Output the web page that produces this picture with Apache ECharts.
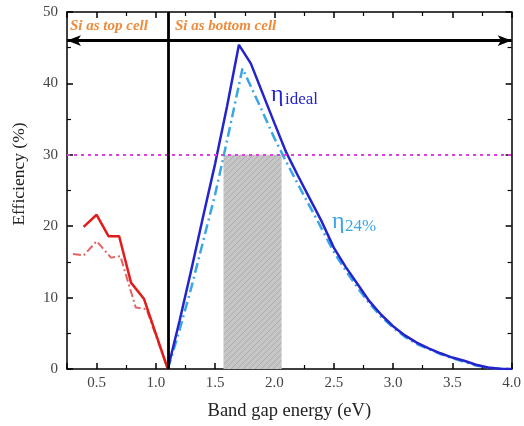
<!DOCTYPE html>
<html>
<head>
<meta charset="utf-8">
<script src="https://cdn.jsdelivr.net/npm/echarts@6/dist/echarts.min.js"></script>
<style>
  html, body { margin: 0; padding: 0; background: #fff; }
  #chart { width: 524px; height: 426px; }
</style>
</head>
<body>
<div id="chart"></div>
<script>
  // Si as top cell
  const topIdealX = [0.39, 0.5, 0.6, 0.69, 0.79, 0.9, 1.1]
  const topIdealY = [19.9, 21.6, 18.6, 18.6, 12.1, 9.8, 0]
  const top24X = [0.3, 0.39, 0.5, 0.62, 0.7, 0.83, 0.92, 1.1]
  const top24Y = [16.1, 15.9, 17.9, 15.6, 15.8, 8.6, 8.4, 0]
  // Si as bottom cell
  const botIdealX = [1.1, 1.2, 1.3, 1.4, 1.5, 1.6, 1.7, 1.8, 1.9, 2.0, 2.1, 2.2, 2.3, 2.4, 2.5, 2.6, 2.7, 2.8, 2.9, 3.0, 3.1, 3.2, 3.3, 3.4, 3.5, 3.6, 3.7, 3.8, 3.9, 4.0]
  const botIdealY = [0, 6.8, 14, 21.5, 28.8, 36.8, 45.4, 42.8, 38.6, 34.4, 30.3, 27.0, 23.8, 20.6, 17.0, 14.3, 11.9, 9.5, 7.6, 6.0, 4.7, 3.7, 2.9, 2.2, 1.6, 1.15, 0.6, 0.2, 0.05, 0]
  const bot24X = [1.1, 1.2, 1.3, 1.4, 1.5, 1.6, 1.73, 1.8, 1.9, 2.0, 2.1, 2.2, 2.3, 2.4, 2.5, 2.6, 2.7, 2.8, 2.9, 3.0, 3.1, 3.2, 3.3, 3.4, 3.5, 3.6, 3.7, 3.8, 3.9, 4.0]
  const bot24Y = [0, 5.5, 11.5, 18, 24.5, 32, 42.1, 39.6, 36, 32.3, 29, 25.8, 22.7, 19.6, 16.4, 13.8, 11.4, 9.2, 7.3, 5.8, 4.5, 3.5, 2.8, 2.1, 1.5, 1.0, 0.5, 0.2, 0.05, 0]
  // guides
  const siGap = 1.1
  const targetEff = 30
  const arrowY = 46
  const boxRange = [1.57, 2.06]
  const xRange = [0.25, 4.0]
  const yRange = [0, 50]

  const pair = (xs, ys) => xs.map((x, i) => [x, ys[i]])

  // hatched grey fill
  const hatch = document.createElement('canvas')
  hatch.width = 6
  hatch.height = 6
  const hc = hatch.getContext('2d')
  hc.fillStyle = '#c6c6c6'
  hc.fillRect(0, 0, 6, 6)
  hc.strokeStyle = '#acacac'
  hc.lineWidth = 1
  hc.beginPath()
  hc.moveTo(0, 6); hc.lineTo(6, 0)
  hc.moveTo(-3, 3); hc.lineTo(3, -3)
  hc.moveTo(3, 9); hc.lineTo(9, 3)
  hc.stroke()

  const serif = 'Liberation Serif'
  const axisCommon = {
    axisLine: { show: true, onZero: false, lineStyle: { color: '#000', width: 1.5 } },
    axisTick: { show: true, inside: true, length: 6, lineStyle: { color: '#000', width: 1.5 } },
    minorTick: { show: true, splitNumber: 2, length: 4, lineStyle: { color: '#000', width: 1.2 } },
    splitLine: { show: false },
  }

  const chart = echarts.init(document.getElementById('chart'))
  const option = {
    backgroundColor: '#fff',
    animation: false,
    grid: { left: 67, right: 10, top: 12, bottom: 56 },
    xAxis: [
      {
        type: 'value', min: xRange[0], max: xRange[1], splitNumber: 8,
        ...axisCommon,
        name: 'Band gap energy (eV)', nameLocation: 'middle', nameGap: 33,
        nameTextStyle: { fontFamily: serif, fontSize: 18.5, color: '#222' },
        axisLabel: {
          showMinLabel: false, margin: 7, fontFamily: serif, fontSize: 15, color: '#444',
          formatter: v => v.toFixed(1),
        },
      },
      {
        type: 'value', position: 'top', min: xRange[0], max: xRange[1], splitNumber: 8,
        ...axisCommon, axisLabel: { show: false },
      },
    ],
    yAxis: [
      {
        type: 'value', min: yRange[0], max: yRange[1], interval: 10,
        ...axisCommon,
        axisLabel: { margin: 9, fontFamily: serif, fontSize: 15, color: '#444' },
      },
      {
        type: 'value', position: 'right', min: yRange[0], max: yRange[1], interval: 10,
        ...axisCommon, axisLabel: { show: false },
      },
    ],
    series: [
      {
        name: 'guides', type: 'line', data: [], z: 1,
        markArea: {
          silent: true,
          itemStyle: { color: { image: hatch, repeat: 'repeat' } },
          data: [[{ coord: [boxRange[0], 0] }, { coord: [boxRange[1], targetEff] }]],
        },
        markLine: {
          silent: true, symbol: 'none', label: { show: false },
          data: [
            { yAxis: targetEff, lineStyle: { color: '#e23ce2', width: 2, type: [3, 4] } },
          ],
        },
      },
      {
        name: 'top 24%', type: 'line', data: pair(top24X, top24Y), showSymbol: false, z: 3,
        lineStyle: { color: '#e46464', width: 2, type: [8, 3, 2, 3] },
      },
      {
        name: 'top ideal', type: 'line', data: pair(topIdealX, topIdealY), showSymbol: false, z: 4,
        lineStyle: { color: '#e01c1c', width: 2.5 },
      },
      {
        name: 'bottom 24%', type: 'line', data: pair(bot24X, bot24Y), showSymbol: false, z: 3,
        lineStyle: { color: '#3aa6e6', width: 2.5, type: [10, 4, 2, 4] },
      },
      {
        name: 'bottom ideal', type: 'line', data: pair(botIdealX, botIdealY), showSymbol: false, z: 4,
        lineStyle: { color: '#2424cc', width: 2.5 },
      },
      {
        name: 'markers', type: 'line', data: [], z: 6,
        markLine: {
          silent: true, label: { show: false },
          data: [
            [
              { coord: [siGap, yRange[0]], symbol: 'none' },
              { coord: [siGap, yRange[1]], symbol: 'none' },
            ],
            [
              { coord: [xRange[0], arrowY], symbol: 'arrow' },
              { coord: [xRange[1], arrowY], symbol: 'arrow' },
            ],
          ],
          symbolSize: [8, 14],
          lineStyle: { color: '#000', width: 2.8, type: 'solid' },
        },
      },
    ],
    graphic: [
      {
        type: 'text', x: 19, y: 174, rotation: Math.PI / 2,
        style: { text: 'Efficiency (%)', fill: '#222', font: '17.5px "Liberation Serif"', align: 'center', verticalAlign: 'middle' },
      },
      { type: 'text', left: 70, top: 19, style: { text: 'Si as top cell', fill: '#ee8a3a', font: 'italic bold 15px "Liberation Serif"' } },
      { type: 'text', left: 175, top: 19, style: { text: 'Si as bottom cell', fill: '#ee8a3a', font: 'italic bold 15px "Liberation Serif"' } },
      { type: 'text', left: 271, top: 83, style: { text: 'η', fill: '#2424cc', font: '24px "Liberation Serif"' } },
      { type: 'text', left: 285, top: 91, style: { text: 'ideal', fill: '#2424cc', font: '17px "Liberation Serif"' } },
      { type: 'text', left: 332, top: 210, style: { text: 'η', fill: '#3aa6e6', font: '24px "Liberation Serif"' } },
      { type: 'text', left: 345, top: 218, style: { text: '24%', fill: '#3aa6e6', font: '17px "Liberation Serif"' } },
    ],
  }
  option && chart.setOption(option)
</script>
</body>
</html>
